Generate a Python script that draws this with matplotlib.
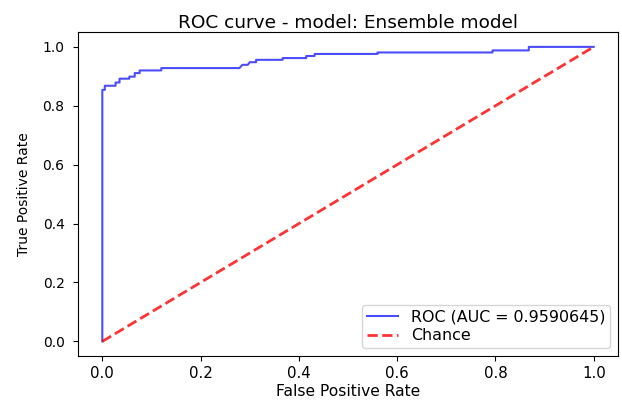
import numpy as np
import matplotlib
matplotlib.use("Agg")
import matplotlib.pyplot as plt

# ROC points (step curve)
fpr = [0.0, 0.0, 0.005, 0.005, 0.027, 0.027, 0.035, 0.035, 0.055, 0.055,
       0.066, 0.066, 0.076, 0.076, 0.120, 0.120, 0.279, 0.285, 0.296, 0.300,
       0.313, 0.313, 0.367, 0.367, 0.415, 0.415, 0.432, 0.432, 0.560, 0.560,
       0.794, 0.794, 0.868, 0.868, 1.0]
tpr = [0.0, 0.854, 0.854, 0.868, 0.868, 0.879, 0.879, 0.892, 0.892, 0.899,
       0.899, 0.911, 0.911, 0.920, 0.920, 0.928, 0.928, 0.939, 0.939, 0.948,
       0.948, 0.956, 0.956, 0.962, 0.962, 0.969, 0.969, 0.976, 0.976, 0.981,
       0.981, 0.988, 0.988, 1.0, 1.0]
auc = 0.9590645

fig = plt.figure(figsize=(6.22, 4.07), dpi=100)
ax = fig.add_axes([0.125, 0.125, 0.869, 0.796])
ax.plot(fpr, tpr, color='b', lw=1.5, alpha=0.7, label='ROC (AUC = %0.7f)' % auc)
ax.plot([0, 1], [0, 1], linestyle='--', lw=2, color='r', alpha=0.8, label='Chance')
ax.set_xlabel('False Positive Rate', fontsize=11.2, labelpad=2.5)
ax.set_ylabel('True Positive Rate', fontsize=10, labelpad=8)
ax.set_title('ROC curve - model: Ensemble model', fontsize=13.3, pad=2)
ax.tick_params(axis='x', labelsize=10.8)
ax.tick_params(axis='y', labelsize=10, pad=6)
ax.legend(loc='lower right', fontsize=11.4, labelspacing=0.25, borderpad=0.3)
fig.savefig('out.png', dpi=100)
